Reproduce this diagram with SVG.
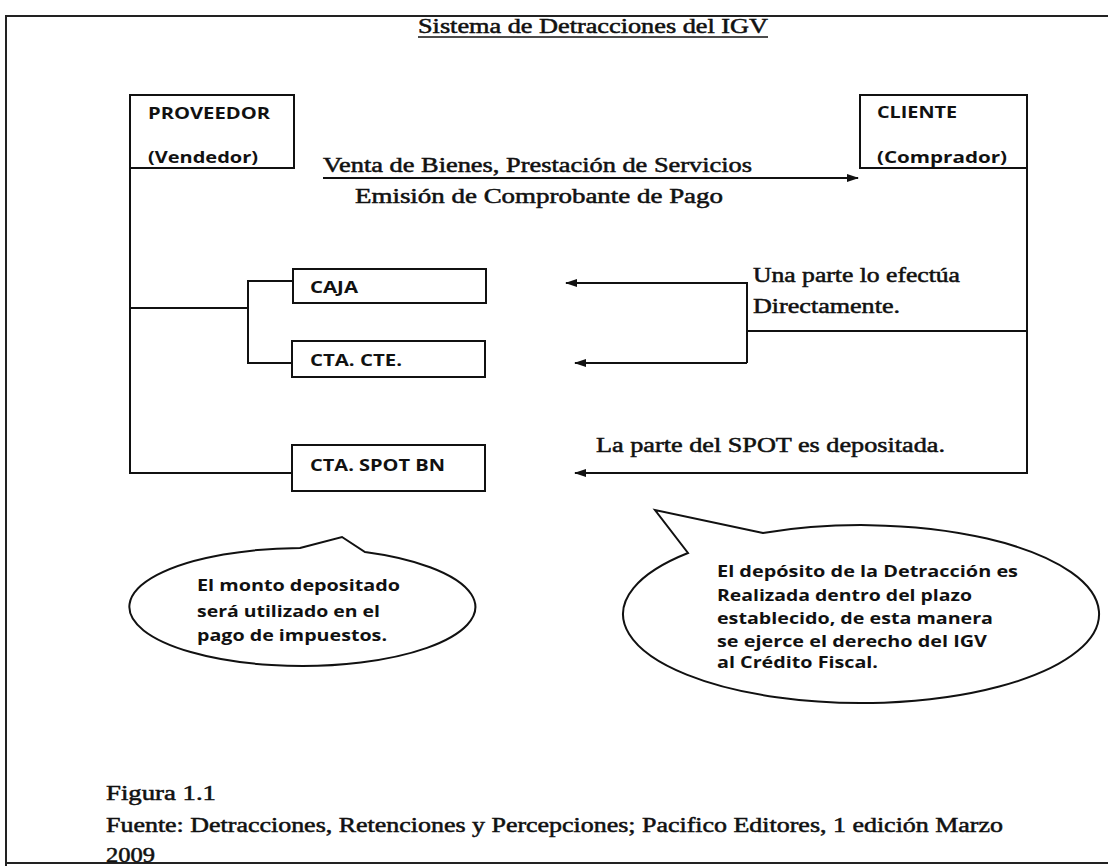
<svg xmlns="http://www.w3.org/2000/svg" width="1108" height="866" viewBox="0 0 1108 866">
<defs>
<style>
.ln{fill:none;stroke:#111;stroke-width:2}
.box{fill:#fff;stroke:#111;stroke-width:2}
.fr{fill:none;stroke:#222;stroke-width:2}
.ser{font-family:"Liberation Serif","Times New Roman",serif;font-size:20px;fill:#111;stroke:#111;stroke-width:0.5}
.san{font-family:"Open Sans","Liberation Sans",sans-serif;font-weight:bold;font-size:16px;fill:#111}
.cal{font-family:"Open Sans","Liberation Sans",sans-serif;font-weight:bold;font-size:15.5px;fill:#111}
</style>
<marker id="ah" viewBox="0 0 12 10" refX="11" refY="5" markerWidth="12" markerHeight="10" markerUnits="userSpaceOnUse" orient="auto">
<path d="M0,1 L12,5 L0,9 Z" fill="#111"/>
</marker>
</defs>
<rect width="1108" height="866" fill="#fff"/>
<g id="frame">
<path class="fr" d="M1108,16 L6,16 L6,866"/>
<path class="fr" d="M6,863 L1108,863"/>
</g>
<g id="title">
<text class="ser" x="418" y="33" font-size="21" textLength="350" lengthAdjust="spacingAndGlyphs">Sistema de Detracciones del IGV</text>
<line x1="418" y1="37" x2="768" y2="37" stroke="#111" stroke-width="1.5"/>
</g>
<g id="connectors">
<path class="ln" d="M130,168 L130,473 L292,473"/>
<path class="ln" d="M130,308 L248,308"/>
<path class="ln" d="M293,281 L248,281 L248,363 L292,363"/>
<path class="ln" d="M323,178 L858,178" marker-end="url(#ah)"/>
<path class="ln" d="M1027,168 L1027,473 L575,473" marker-end="url(#ah)"/>
<path class="ln" d="M1027,331 L747,331"/>
<path class="ln" d="M747,363 L747,283 L566,283" marker-end="url(#ah)"/>
<path class="ln" d="M747,363 L575,363" marker-end="url(#ah)"/>
</g>
<g id="proveedor">
<rect class="box" x="130" y="95" width="164" height="73"/>
<text class="san" x="148" y="119" textLength="122" lengthAdjust="spacingAndGlyphs">PROVEEDOR</text>
<text class="san" x="148" y="163" textLength="110" lengthAdjust="spacingAndGlyphs">(Vendedor)</text>
</g>
<g id="cliente">
<rect class="box" x="860" y="95" width="167" height="73"/>
<text class="san" x="877" y="118" textLength="80" lengthAdjust="spacingAndGlyphs">CLIENTE</text>
<text class="san" x="877" y="163" textLength="130" lengthAdjust="spacingAndGlyphs">(Comprador)</text>
</g>
<g id="caja">
<rect class="box" x="293" y="269" width="193" height="34"/>
<text class="san" x="310" y="293" textLength="48" lengthAdjust="spacingAndGlyphs">CAJA</text>
</g>
<g id="cta-cte">
<rect class="box" x="292" y="341" width="193" height="36"/>
<text class="san" x="310" y="366" textLength="92" lengthAdjust="spacingAndGlyphs">CTA. CTE.</text>
</g>
<g id="cta-spot">
<rect class="box" x="292" y="445" width="193" height="46"/>
<text class="san" x="310" y="471" textLength="135" lengthAdjust="spacingAndGlyphs">CTA. SPOT BN</text>
</g>
<g id="labels">
<text class="ser" x="323" y="172" textLength="429" lengthAdjust="spacingAndGlyphs">Venta de Bienes, Prestación de Servicios</text>
<text class="ser" x="355" y="203" textLength="368" lengthAdjust="spacingAndGlyphs">Emisión de Comprobante de Pago</text>
<text class="ser" x="753" y="282" textLength="207" lengthAdjust="spacingAndGlyphs">Una parte lo efectúa</text>
<text class="ser" x="753" y="313" textLength="147" lengthAdjust="spacingAndGlyphs">Directamente.</text>
<text class="ser" x="596" y="452" textLength="349" lengthAdjust="spacingAndGlyphs">La parte del SPOT es depositada.</text>
</g>
<g id="callout-left">
<path class="ln" d="M300,548 L342,537 L365,552 A173,59 0 1 1 300,548 Z" fill="#fff"/>
<text class="cal" x="197" y="591" textLength="203" lengthAdjust="spacingAndGlyphs">El monto depositado</text>
<text class="cal" x="197" y="617" textLength="183" lengthAdjust="spacingAndGlyphs">será utilizado en el</text>
<text class="cal" x="197" y="641" textLength="190" lengthAdjust="spacingAndGlyphs">pago de impuestos.</text>
</g>
<g id="callout-right">
<path class="ln" d="M763,533 L655,510 L688,553 A238,89 0 1 0 763,533 Z" fill="#fff"/>
<text class="cal" x="717" y="577" textLength="301" lengthAdjust="spacingAndGlyphs">El depósito de la Detracción es</text>
<text class="cal" x="717" y="601" textLength="255" lengthAdjust="spacingAndGlyphs">Realizada dentro del plazo</text>
<text class="cal" x="717" y="624" textLength="276" lengthAdjust="spacingAndGlyphs">establecido, de esta manera</text>
<text class="cal" x="717" y="647" textLength="270" lengthAdjust="spacingAndGlyphs">se ejerce el derecho del IGV</text>
<text class="cal" x="717" y="668" textLength="161" lengthAdjust="spacingAndGlyphs">al Crédito Fiscal.</text>
</g>
<g id="footer">
<text class="ser" x="106" y="800" textLength="110" lengthAdjust="spacingAndGlyphs">Figura 1.1</text>
<text class="ser" x="106" y="832" textLength="897" lengthAdjust="spacingAndGlyphs">Fuente: Detracciones, Retenciones y Percepciones; Pacifico Editores, 1 edición Marzo</text>
<text class="ser" x="106" y="862" textLength="49" lengthAdjust="spacingAndGlyphs">2009</text>
</g>
</svg>
